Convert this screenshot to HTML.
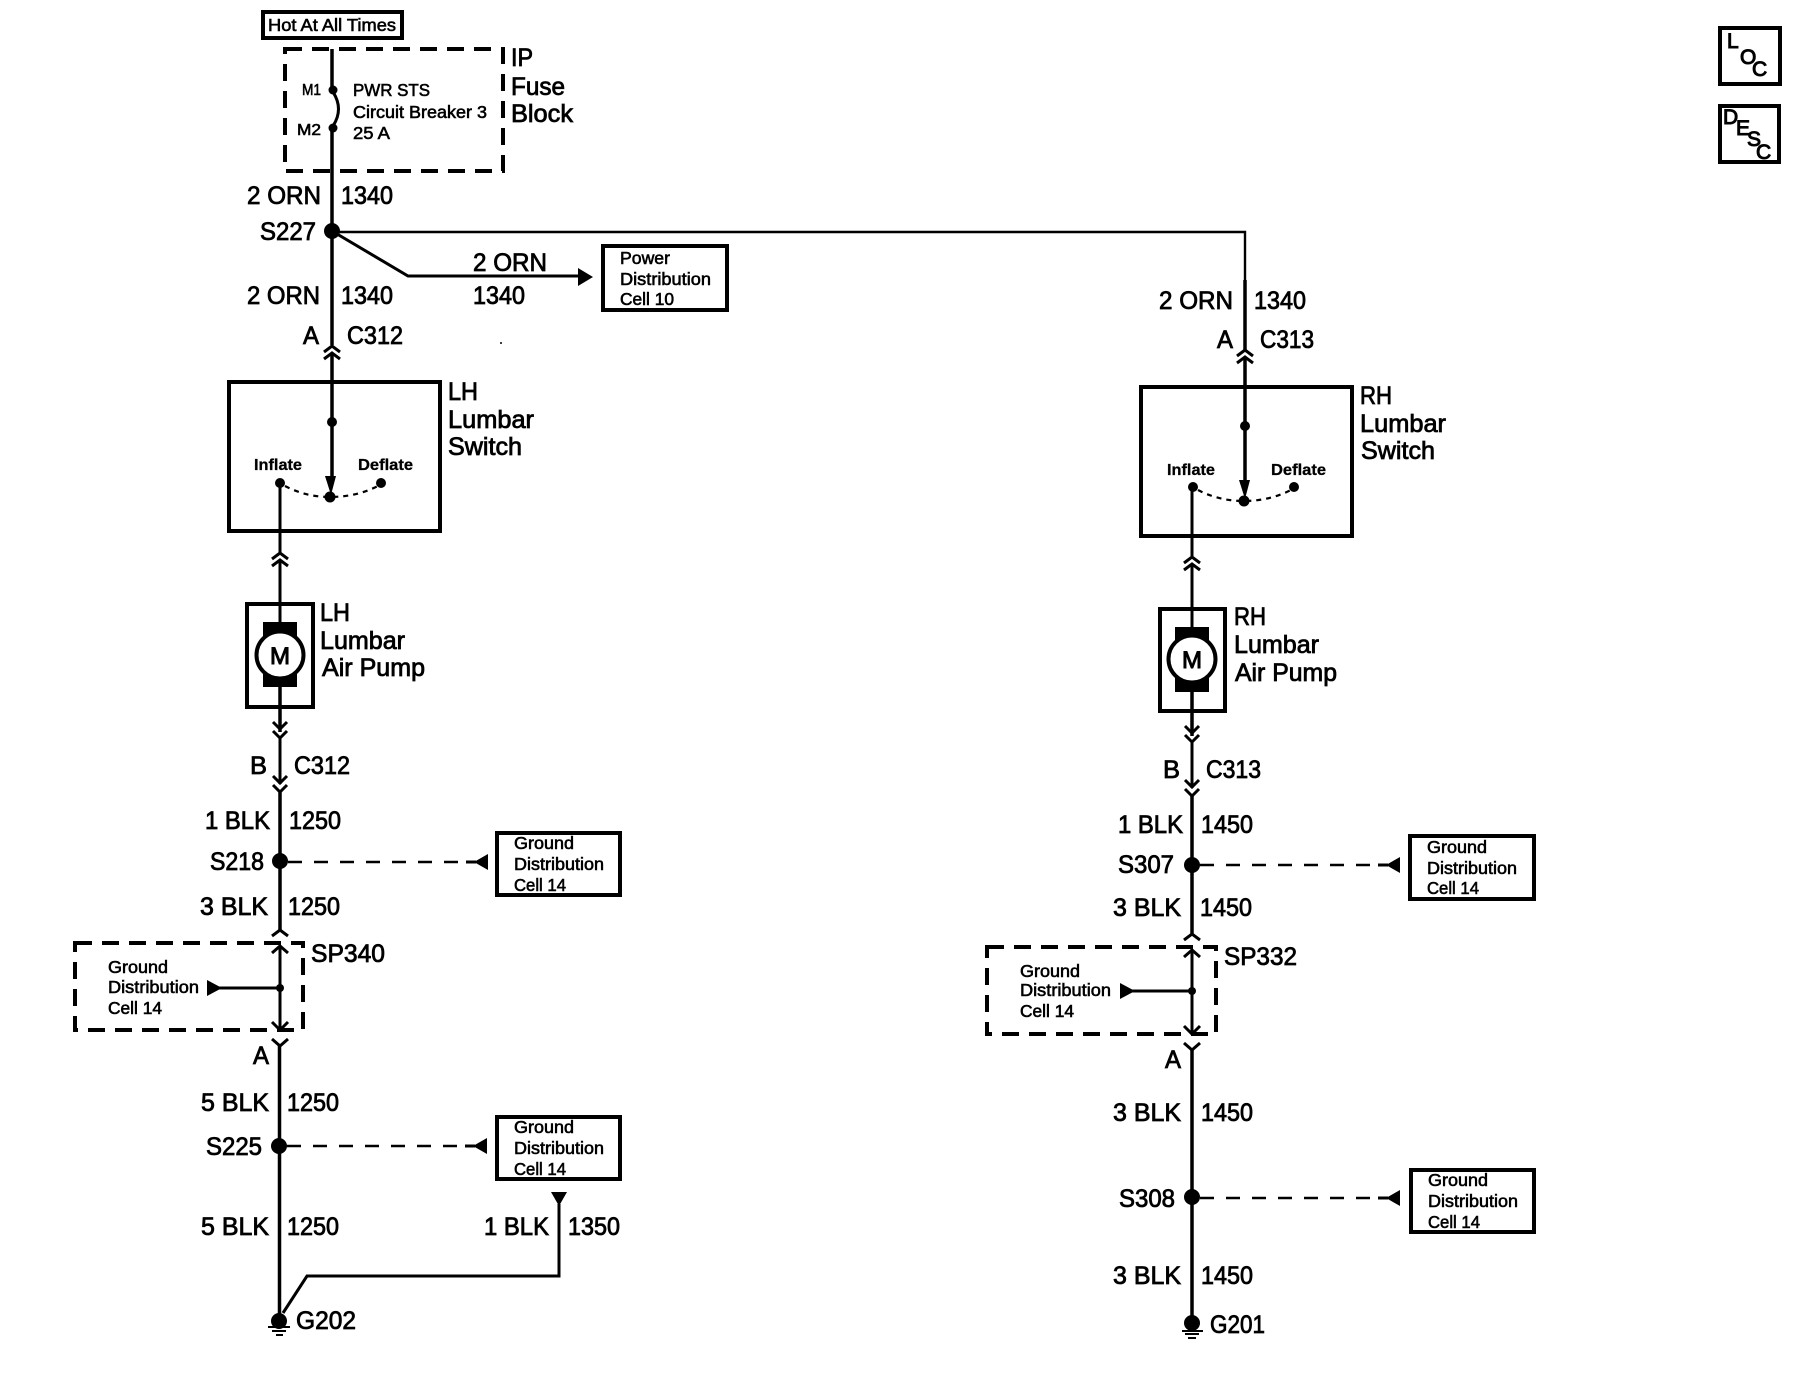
<!DOCTYPE html>
<html>
<head>
<meta charset="utf-8">
<style>
html,body{margin:0;padding:0;background:#fff;width:1820px;height:1376px;overflow:hidden}
svg{display:block}
text{font-family:"Liberation Sans",sans-serif;fill:#000;stroke:#000;stroke-width:.8px}
.l{font-size:25px}
.s{font-size:17.5px;stroke-width:.6px}
.t{font-size:16px;font-weight:bold;stroke-width:.3px}
.m{font-size:16px;stroke-width:.6px}
.w{fill:none;stroke:#000;stroke-width:3.5}
.n{fill:none;stroke:#000;stroke-width:3}
.h{fill:none;stroke:#000;stroke-width:2.4}
.b{fill:none;stroke:#000;stroke-width:4}
.d{fill:none;stroke:#000;stroke-width:4;stroke-dasharray:17 10}
.c{fill:none;stroke:#000;stroke-width:2.6;stroke-dasharray:14 12}
.o{fill:none;stroke:#000;stroke-width:2.2;stroke-dasharray:5 5}
.k{fill:#000;stroke:none}
</style>
</head>
<body>
<svg width="1820" height="1376" viewBox="0 0 1820 1376" xmlns="http://www.w3.org/2000/svg">
<defs>
<path id="up" class="n" d="M-8 6 L0 0 L8 6 M-8 13 L0 7 L8 13"/>
<path id="down" class="n" d="M-7 0 L0 7 L7 0 M-7 9 L0 16 L7 9"/>
</defs>

<!-- Hot box -->
<rect class="b" x="263" y="12" width="139" height="26"/>
<text class="s" x="268" y="31" textLength="128" lengthAdjust="spacingAndGlyphs">Hot At All Times</text>

<!-- Fuse block -->
<rect class="d" x="285" y="49" width="218" height="122"/>
<path class="w" d="M332 49 V90 M332 128 V231"/>
<path class="n" d="M333 92 Q344 109 333 126"/>
<circle class="k" cx="333" cy="90" r="4.5"/>
<circle class="k" cx="333" cy="128" r="4.5"/>
<text class="m" x="302" y="95" textLength="19" lengthAdjust="spacingAndGlyphs">M1</text>
<text class="m" x="297" y="135" textLength="24" lengthAdjust="spacingAndGlyphs">M2</text>
<text class="s" x="353" y="96" textLength="77" lengthAdjust="spacingAndGlyphs">PWR STS</text>
<text class="s" x="353" y="118" textLength="134" lengthAdjust="spacingAndGlyphs">Circuit Breaker 3</text>
<text class="s" x="353" y="139" textLength="37" lengthAdjust="spacingAndGlyphs">25 A</text>
<text class="l" x="511" y="66" textLength="22" lengthAdjust="spacingAndGlyphs">IP</text>
<text class="l" x="511" y="95" textLength="54" lengthAdjust="spacingAndGlyphs">Fuse</text>
<text class="l" x="511" y="122" textLength="62" lengthAdjust="spacingAndGlyphs">Block</text>

<!-- Left top -->
<text class="l" x="247" y="204" textLength="74" lengthAdjust="spacingAndGlyphs">2 ORN</text>
<text class="l" x="341" y="204" textLength="52" lengthAdjust="spacingAndGlyphs">1340</text>
<text class="l" x="260" y="240" textLength="56" lengthAdjust="spacingAndGlyphs">S227</text>
<circle class="k" cx="332" cy="231" r="8"/>
<path class="h" d="M332 232 H1245 V349"/>
<path class="n" d="M332 231 L408 276 H580"/>
<path class="k" d="M578 268 L593 277 L578 286 Z"/>
<text class="l" x="473" y="271" textLength="74" lengthAdjust="spacingAndGlyphs">2 ORN</text>
<text class="l" x="473" y="304" textLength="52" lengthAdjust="spacingAndGlyphs">1340</text>
<rect class="b" x="603" y="246" width="124" height="64"/>
<text class="s" x="620" y="264" textLength="50" lengthAdjust="spacingAndGlyphs">Power</text>
<text class="s" x="620" y="285" textLength="91" lengthAdjust="spacingAndGlyphs">Distribution</text>
<text class="s" x="620" y="305" textLength="54" lengthAdjust="spacingAndGlyphs">Cell 10</text>
<text class="l" x="247" y="304" textLength="73" lengthAdjust="spacingAndGlyphs">2 ORN</text>
<text class="l" x="341" y="304" textLength="52" lengthAdjust="spacingAndGlyphs">1340</text>
<text class="l" x="303" y="344" textLength="16" lengthAdjust="spacingAndGlyphs">A</text>
<text class="l" x="347" y="344" textLength="56" lengthAdjust="spacingAndGlyphs">C312</text>
<circle class="k" cx="501" cy="343" r="1"/>
<path class="w" d="M332 231 V345"/>
<use href="#up" x="332" y="346"/>
<path class="w" d="M332 354 V478"/>

<!-- LH switch -->
<rect class="b" x="229" y="382" width="211" height="149"/>
<circle class="k" cx="332" cy="422" r="5"/>
<path class="k" d="M325 476 L336 476 L331 495 Z"/>
<text class="t" x="254" y="470" textLength="48" lengthAdjust="spacingAndGlyphs">Inflate</text>
<text class="t" x="358" y="470" textLength="55" lengthAdjust="spacingAndGlyphs">Deflate</text>
<circle class="k" cx="280" cy="483" r="5"/>
<circle class="k" cx="381" cy="483" r="5"/>
<circle class="k" cx="330" cy="497" r="5.5"/>
<path class="o" d="M285 486 Q306 497 330 497 Q356 497 378 486"/>
<text class="l" x="448" y="400" textLength="30" lengthAdjust="spacingAndGlyphs">LH</text>
<text class="l" x="448" y="428" textLength="86" lengthAdjust="spacingAndGlyphs">Lumbar</text>
<text class="l" x="448" y="455" textLength="74" lengthAdjust="spacingAndGlyphs">Switch</text>
<path class="n" d="M280 483 V554"/>
<use href="#up" x="280" y="553"/>
<path class="n" d="M280 561 V624"/>

<!-- LH pump -->
<rect class="b" x="247" y="604" width="66" height="103"/>
<rect class="k" x="263" y="622" width="34" height="65"/>
<circle cx="280" cy="655" r="23.5" fill="#fff" stroke="#000" stroke-width="4"/>
<text x="270" y="664" font-size="24" textLength="20" lengthAdjust="spacingAndGlyphs" style="stroke-width:1px">M</text>
<text class="l" x="320" y="621" textLength="30" lengthAdjust="spacingAndGlyphs">LH</text>
<text class="l" x="320" y="649" textLength="85" lengthAdjust="spacingAndGlyphs">Lumbar</text>
<text class="l" x="322" y="676" textLength="103" lengthAdjust="spacingAndGlyphs">Air Pump</text>
<path class="w" d="M280 687 V732"/>
<use href="#down" x="280" y="722"/>
<path class="n" d="M280 738 V784"/>
<use href="#down" x="280" y="776"/>
<text class="l" x="250" y="774" textLength="17" lengthAdjust="spacingAndGlyphs">B</text>
<text class="l" x="294" y="774" textLength="56" lengthAdjust="spacingAndGlyphs">C312</text>
<path class="w" d="M280 790 V930"/>
<text class="l" x="205" y="829" textLength="65" lengthAdjust="spacingAndGlyphs">1 BLK</text>
<text class="l" x="289" y="829" textLength="52" lengthAdjust="spacingAndGlyphs">1250</text>
<text class="l" x="210" y="870" textLength="54" lengthAdjust="spacingAndGlyphs">S218</text>
<circle class="k" cx="280" cy="861" r="8"/>
<path class="c" d="M288 862 H466"/>
<path class="k" d="M488 854 L488 870 L474 862 Z"/>
<path class="n" d="M466 862 H476"/>
<rect class="b" x="497" y="833" width="123" height="62"/>
<text class="s" x="514" y="849" textLength="60" lengthAdjust="spacingAndGlyphs">Ground</text>
<text class="s" x="514" y="870" textLength="90" lengthAdjust="spacingAndGlyphs">Distribution</text>
<text class="s" x="514" y="891" textLength="52" lengthAdjust="spacingAndGlyphs">Cell 14</text>
<text class="l" x="200" y="915" textLength="68" lengthAdjust="spacingAndGlyphs">3 BLK</text>
<text class="l" x="288" y="915" textLength="52" lengthAdjust="spacingAndGlyphs">1250</text>

<!-- SP340 -->
<path class="n" d="M272 936 L280 930 L288 936"/>
<rect class="d" x="75" y="943" width="228" height="87"/>
<path class="n" d="M272 953 L280 946 L288 953"/>
<path class="n" d="M280 947 V1030"/>
<path class="n" d="M272 1022 L280 1030 L288 1022"/>
<circle class="k" cx="280" cy="988" r="4"/>
<path class="n" d="M218 988 H280"/>
<path class="k" d="M207 980 L207 996 L222 988 Z"/>
<text class="s" x="108" y="973" textLength="60" lengthAdjust="spacingAndGlyphs">Ground</text>
<text class="s" x="108" y="993" textLength="91" lengthAdjust="spacingAndGlyphs">Distribution</text>
<text class="s" x="108" y="1014" textLength="54" lengthAdjust="spacingAndGlyphs">Cell 14</text>
<text class="l" x="311" y="962" textLength="74" lengthAdjust="spacingAndGlyphs">SP340</text>
<path class="n" d="M272 1039 L280 1046 L288 1039"/>
<text class="l" x="253" y="1064" textLength="16" lengthAdjust="spacingAndGlyphs">A</text>
<path class="w" d="M279.5 1046 V1320"/>
<text class="l" x="201" y="1111" textLength="68" lengthAdjust="spacingAndGlyphs">5 BLK</text>
<text class="l" x="287" y="1111" textLength="52" lengthAdjust="spacingAndGlyphs">1250</text>
<text class="l" x="206" y="1155" textLength="56" lengthAdjust="spacingAndGlyphs">S225</text>
<circle class="k" cx="279" cy="1146" r="8"/>
<path class="c" d="M287 1146 H465"/>
<path class="k" d="M487 1138 L487 1154 L473 1146 Z"/>
<path class="n" d="M465 1146 H475"/>
<rect class="b" x="497" y="1117" width="123" height="62"/>
<text class="s" x="514" y="1133" textLength="60" lengthAdjust="spacingAndGlyphs">Ground</text>
<text class="s" x="514" y="1154" textLength="90" lengthAdjust="spacingAndGlyphs">Distribution</text>
<text class="s" x="514" y="1175" textLength="52" lengthAdjust="spacingAndGlyphs">Cell 14</text>
<text class="l" x="201" y="1235" textLength="68" lengthAdjust="spacingAndGlyphs">5 BLK</text>
<text class="l" x="287" y="1235" textLength="52" lengthAdjust="spacingAndGlyphs">1250</text>
<text class="l" x="484" y="1235" textLength="65" lengthAdjust="spacingAndGlyphs">1 BLK</text>
<text class="l" x="568" y="1235" textLength="52" lengthAdjust="spacingAndGlyphs">1350</text>
<path class="k" d="M551 1192 H567 L559 1206 Z"/>
<path class="n" d="M559 1204 V1276 H307 L283 1313"/>
<circle class="k" cx="279" cy="1321" r="8"/>
<path class="n" d="M268 1327 H290 M272 1331 H286 M276 1335 H283" style="stroke-width:2"/>
<text class="l" x="296" y="1329" textLength="60" lengthAdjust="spacingAndGlyphs">G202</text>

<!-- Right top -->
<text class="l" x="1159" y="309" textLength="74" lengthAdjust="spacingAndGlyphs">2 ORN</text>
<text class="l" x="1254" y="309" textLength="52" lengthAdjust="spacingAndGlyphs">1340</text>
<text class="l" x="1217" y="348" textLength="16" lengthAdjust="spacingAndGlyphs">A</text>
<text class="l" x="1260" y="348" textLength="54" lengthAdjust="spacingAndGlyphs">C313</text>
<path class="w" d="M1245 280 V350"/>
<use href="#up" x="1245" y="350"/>
<path class="w" d="M1245 358 V482"/>

<!-- RH switch -->
<rect class="b" x="1141" y="387" width="211" height="149"/>
<circle class="k" cx="1245" cy="426" r="5"/>
<path class="k" d="M1239 480 L1250 480 L1245 499 Z"/>
<text class="t" x="1167" y="475" textLength="48" lengthAdjust="spacingAndGlyphs">Inflate</text>
<text class="t" x="1271" y="475" textLength="55" lengthAdjust="spacingAndGlyphs">Deflate</text>
<circle class="k" cx="1193" cy="487" r="5"/>
<circle class="k" cx="1294" cy="487" r="5"/>
<circle class="k" cx="1244" cy="501" r="5.5"/>
<path class="o" d="M1198 490 Q1219 501 1244 501 Q1269 501 1291 490"/>
<text class="l" x="1360" y="404" textLength="32" lengthAdjust="spacingAndGlyphs">RH</text>
<text class="l" x="1360" y="432" textLength="86" lengthAdjust="spacingAndGlyphs">Lumbar</text>
<text class="l" x="1361" y="459" textLength="74" lengthAdjust="spacingAndGlyphs">Switch</text>
<path class="n" d="M1192 487 V558"/>
<use href="#up" x="1192" y="557"/>
<path class="n" d="M1192 565 V628"/>

<!-- RH pump -->
<rect class="b" x="1160" y="609" width="65" height="102"/>
<rect class="k" x="1175" y="627" width="34" height="65"/>
<circle cx="1192" cy="659" r="23.5" fill="#fff" stroke="#000" stroke-width="4"/>
<text x="1182" y="668" font-size="24" textLength="20" lengthAdjust="spacingAndGlyphs" style="stroke-width:1px">M</text>
<text class="l" x="1234" y="625" textLength="32" lengthAdjust="spacingAndGlyphs">RH</text>
<text class="l" x="1234" y="653" textLength="85" lengthAdjust="spacingAndGlyphs">Lumbar</text>
<text class="l" x="1235" y="681" textLength="102" lengthAdjust="spacingAndGlyphs">Air Pump</text>
<path class="w" d="M1192 692 V736"/>
<use href="#down" x="1192" y="726"/>
<path class="n" d="M1192 742 V788"/>
<use href="#down" x="1192" y="780"/>
<text class="l" x="1163" y="778" textLength="17" lengthAdjust="spacingAndGlyphs">B</text>
<text class="l" x="1206" y="778" textLength="55" lengthAdjust="spacingAndGlyphs">C313</text>
<path class="w" d="M1192 794 V934"/>
<text class="l" x="1118" y="833" textLength="65" lengthAdjust="spacingAndGlyphs">1 BLK</text>
<text class="l" x="1201" y="833" textLength="52" lengthAdjust="spacingAndGlyphs">1450</text>
<text class="l" x="1118" y="873" textLength="56" lengthAdjust="spacingAndGlyphs">S307</text>
<circle class="k" cx="1192" cy="865" r="8"/>
<path class="c" d="M1200 865 H1378"/>
<path class="k" d="M1400 857 L1400 873 L1386 865 Z"/>
<path class="n" d="M1378 865 H1388"/>
<rect class="b" x="1410" y="836" width="124" height="63"/>
<text class="s" x="1427" y="853" textLength="60" lengthAdjust="spacingAndGlyphs">Ground</text>
<text class="s" x="1427" y="874" textLength="90" lengthAdjust="spacingAndGlyphs">Distribution</text>
<text class="s" x="1427" y="894" textLength="52" lengthAdjust="spacingAndGlyphs">Cell 14</text>
<text class="l" x="1113" y="916" textLength="68" lengthAdjust="spacingAndGlyphs">3 BLK</text>
<text class="l" x="1200" y="916" textLength="52" lengthAdjust="spacingAndGlyphs">1450</text>

<!-- SP332 -->
<path class="n" d="M1184 940 L1192 934 L1200 940"/>
<rect class="d" x="987" y="947" width="229" height="87"/>
<path class="n" d="M1184 957 L1192 950 L1200 957"/>
<path class="n" d="M1192 951 V1034"/>
<path class="n" d="M1184 1026 L1192 1034 L1200 1026"/>
<circle class="k" cx="1192" cy="991" r="4"/>
<path class="n" d="M1130 991 H1192"/>
<path class="k" d="M1120 983 L1120 999 L1135 991 Z"/>
<text class="s" x="1020" y="977" textLength="60" lengthAdjust="spacingAndGlyphs">Ground</text>
<text class="s" x="1020" y="996" textLength="91" lengthAdjust="spacingAndGlyphs">Distribution</text>
<text class="s" x="1020" y="1017" textLength="54" lengthAdjust="spacingAndGlyphs">Cell 14</text>
<text class="l" x="1224" y="965" textLength="73" lengthAdjust="spacingAndGlyphs">SP332</text>
<path class="n" d="M1184 1043 L1192 1050 L1200 1043"/>
<text class="l" x="1165" y="1068" textLength="16" lengthAdjust="spacingAndGlyphs">A</text>
<path class="w" d="M1192 1050 V1316"/>
<text class="l" x="1113" y="1121" textLength="68" lengthAdjust="spacingAndGlyphs">3 BLK</text>
<text class="l" x="1201" y="1121" textLength="52" lengthAdjust="spacingAndGlyphs">1450</text>
<text class="l" x="1119" y="1207" textLength="56" lengthAdjust="spacingAndGlyphs">S308</text>
<circle class="k" cx="1192" cy="1197" r="8"/>
<path class="c" d="M1200 1198 H1378"/>
<path class="k" d="M1400 1190 L1400 1206 L1386 1198 Z"/>
<path class="n" d="M1378 1198 H1388"/>
<rect class="b" x="1411" y="1170" width="123" height="62"/>
<text class="s" x="1428" y="1186" textLength="60" lengthAdjust="spacingAndGlyphs">Ground</text>
<text class="s" x="1428" y="1207" textLength="90" lengthAdjust="spacingAndGlyphs">Distribution</text>
<text class="s" x="1428" y="1228" textLength="52" lengthAdjust="spacingAndGlyphs">Cell 14</text>
<text class="l" x="1113" y="1284" textLength="68" lengthAdjust="spacingAndGlyphs">3 BLK</text>
<text class="l" x="1201" y="1284" textLength="52" lengthAdjust="spacingAndGlyphs">1450</text>
<circle class="k" cx="1192" cy="1323" r="8"/>
<path class="n" d="M1182 1331 H1203 M1185 1334 H1199 M1188 1338 H1196" style="stroke-width:2"/>
<text class="l" x="1210" y="1333" textLength="55" lengthAdjust="spacingAndGlyphs">G201</text>

<!-- LOC / DESC -->
<rect class="b" x="1720" y="28" width="60" height="56"/>
<text x="1727" y="48" font-size="21" style="stroke-width:1px">L</text>
<text x="1740" y="64" font-size="21" style="stroke-width:1px">O</text>
<text x="1752" y="76" font-size="21" style="stroke-width:1px">C</text>
<rect class="b" x="1720" y="106" width="59" height="56"/>
<text x="1723" y="124" font-size="21" style="stroke-width:1px">D</text>
<text x="1736" y="135" font-size="21" style="stroke-width:1px">E</text>
<text x="1747" y="146" font-size="21" style="stroke-width:1px">S</text>
<text x="1756" y="159" font-size="21" style="stroke-width:1px">C</text>
</svg>
</body>
</html>
